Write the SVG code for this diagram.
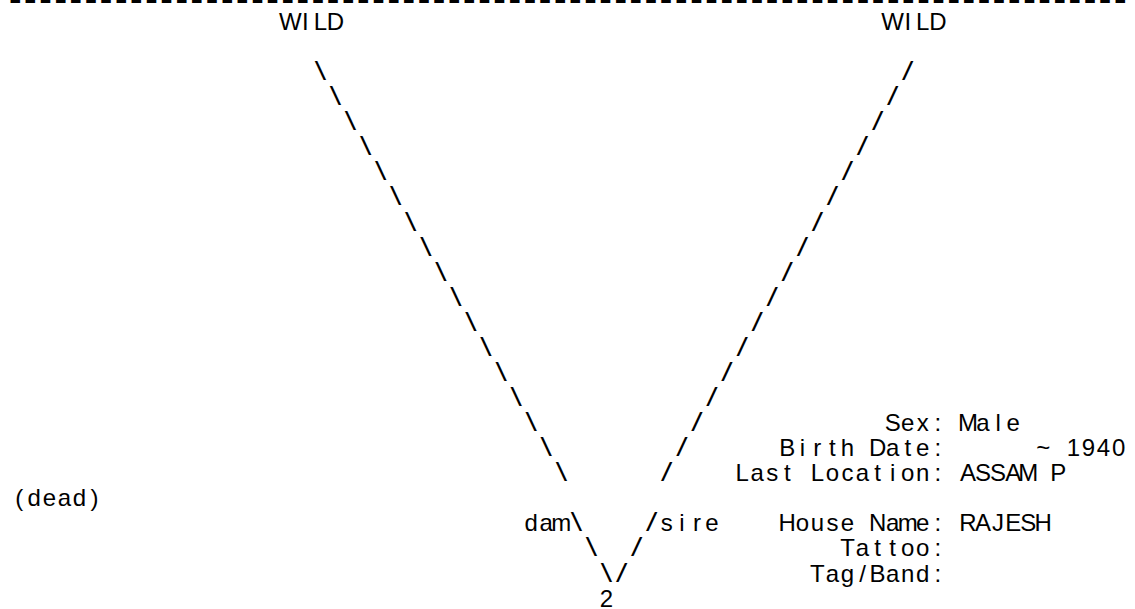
<svg xmlns="http://www.w3.org/2000/svg" width="1135" height="609" viewBox="0 0 1135 609">
<style>
.t { font-family: "Liberation Sans", Arial, sans-serif; font-size: 24px; fill: #000; text-anchor: middle; white-space: pre; }
.sl { font-family: "DejaVu Sans Mono", "Liberation Mono", monospace; font-size: 23px; font-weight: bold; fill: #000; text-anchor: middle; }
.rule { font-family: "DejaVu Sans Mono", "Liberation Mono", monospace; font-size: 22px; font-weight: bold; fill: #000; letter-spacing: -2.426px; }
</style>
<rect width="1135" height="609" fill="#fff"/>
<g id="rule">
<text class="rule" transform="scale(1.4 1)" x="4.27" y="7.5">--------------------------------------------------------------------------</text>
</g>
<g id="node-wild-dam">
<text class="t" x="290.27 305.33 320.39 335.45" y="30">WILD</text>
</g>
<g id="node-wild-sire">
<text class="t" x="892.67 907.73 922.79 937.85" y="30">WILD</text>
</g>
<g id="connectors">
<text class="sl" x="320.39 335.45 350.51 365.57 380.63 395.69 410.75 425.81 440.87 455.93 470.99 486.05 501.11 516.17 531.23 546.29 561.35" y="78.14 103.21 128.28 153.35 178.42 203.49 228.56 253.63 278.7 303.77 328.84 353.91 378.98 404.05 429.12 454.19 479.26">\\\\\\\\\\\\\\\\\</text>
<text class="sl" x="907.73 892.67 877.61 862.55 847.49 832.43 817.37 802.31 787.25 772.19 757.13 742.07 727.01 711.95 696.89 681.83 666.77" y="78.14 103.21 128.28 153.35 178.42 203.49 228.56 253.63 278.7 303.77 328.84 353.91 378.98 404.05 429.12 454.19 479.26">/////////////////</text>
<text class="t" x="531.23 546.29 561.35" y="531.4">dam<tspan class="sl" x="576.41" y="529.4">\</tspan></text>
<text class="t" y="531.4"><tspan class="sl" x="651.71" y="529.4">/</tspan><tspan x="666.77 681.83 696.89 711.95" y="531.4">sire</tspan></text>
<text class="sl" x="591.47 636.65" y="554.47">\/</text>
<text class="sl" x="606.53 621.59" y="579.54">\/</text>
</g>
<g id="node-2">
<text class="t" x="606.53" y="606.61">2</text>
<text class="t" xml:space="preserve" x="892.67 907.73 922.79 937.85 952.91 967.97 983.03 998.09 1013.15" y="431.12">Sex: Male</text>
<text class="t" xml:space="preserve" x="787.25 802.31 817.37 832.43 847.49 862.55 877.61 892.67 907.73 922.79 937.85 952.91 967.97 983.03 998.09 1013.15 1028.21 1043.27 1058.33 1073.39 1088.45 1103.51 1118.57" y="456.19">Birth Date:      ~ 1940</text>
<text class="t" xml:space="preserve" x="742.07 757.13 772.19 787.25 802.31 817.37 832.43 847.49 862.55 877.61 892.67 907.73 922.79 937.85 952.91 967.97 983.03 998.09 1013.15 1028.21 1043.27 1058.33" y="481.26">Last Location: ASSAM P</text>
<text class="t" xml:space="preserve" x="787.25 802.31 817.37 832.43 847.49 862.55 877.61 892.67 907.73 922.79 937.85 952.91 967.97 983.03 998.09 1013.15 1028.21 1043.27" y="531.4">House Name: RAJESH</text>
<text class="t" x="847.49 862.55 877.61 892.67 907.73 922.79 937.85" y="556.47">Tattoo:</text>
<text class="t" x="817.37 832.43 847.49 862.55 877.61 892.67 907.73 922.79 937.85" y="581.54">Tag/Band:</text>
</g>
<g id="status">
<text class="t" x="19.19 34.25 49.31 64.37 79.43 94.49" y="506.33">(dead)</text>
</g>
</svg>
